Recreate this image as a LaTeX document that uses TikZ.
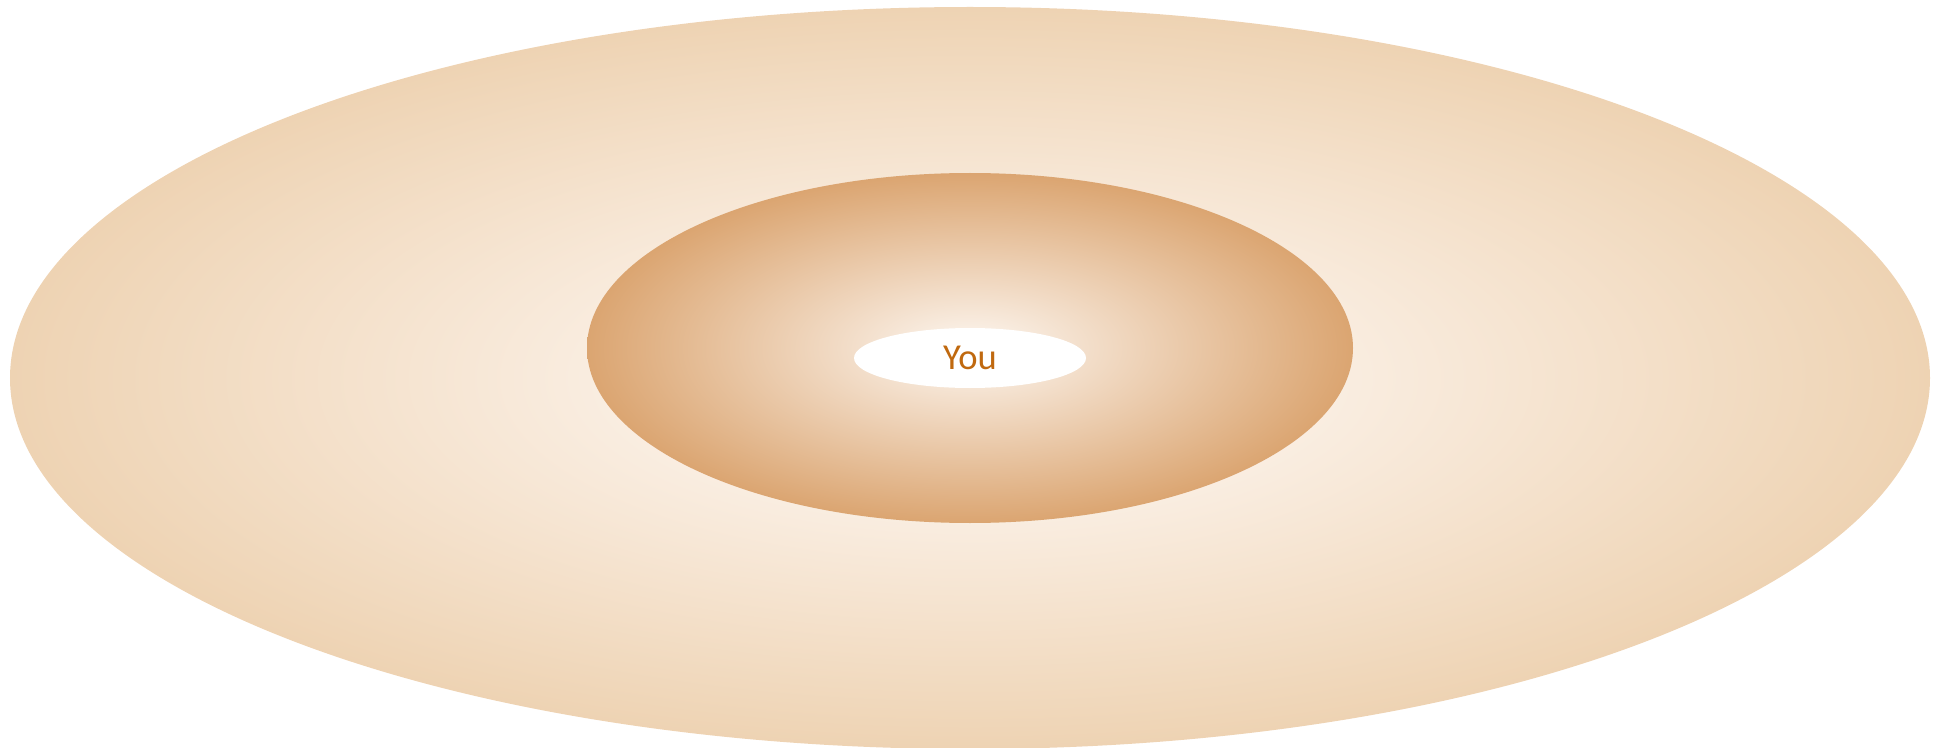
\documentclass[tikz,border=0pt]{standalone}
\usepackage{fontspec}
\setmainfont{Carlito}
\usetikzlibrary{shapes.geometric}
\definecolor{farcream}{HTML}{FAEEE2}
\definecolor{fartan}{HTML}{EED3B3}
\definecolor{nearcream}{HTML}{FDF7F1}
\definecolor{neartan}{HTML}{DBA571}
\definecolor{youtext}{HTML}{C0690F}
\pgfdeclareradialshading{farglow}{\pgfpoint{0bp}{0bp}}{%
  color(0bp)=(farcream); color(9bp)=(farcream);
  color(25bp)=(fartan); color(50bp)=(fartan)}

\begin{document}
\begin{tikzpicture}[
  ring/.style={ellipse, inner sep=0pt},
]

% Canvas
\useasboundingbox (0,0) rectangle (19.42,7.47);

% Outer circle
\node[ring, shading=farglow, minimum width=19.2cm, minimum height=7.42cm]
  (outer) at (9.70,3.69) {};

% Middle circle
\node[ring, shading=radial, minimum width=7.66cm, minimum height=3.50cm,
  inner color=nearcream, outer color=neartan] (middle) at (9.70,3.99) {};

% Centre
\node[ring, fill=white, minimum width=2.32cm, minimum height=0.60cm,
  font=\fontsize{10.4}{12}\selectfont, text=youtext] (you) at (9.70,3.89) {You};

\end{tikzpicture}
\end{document}
